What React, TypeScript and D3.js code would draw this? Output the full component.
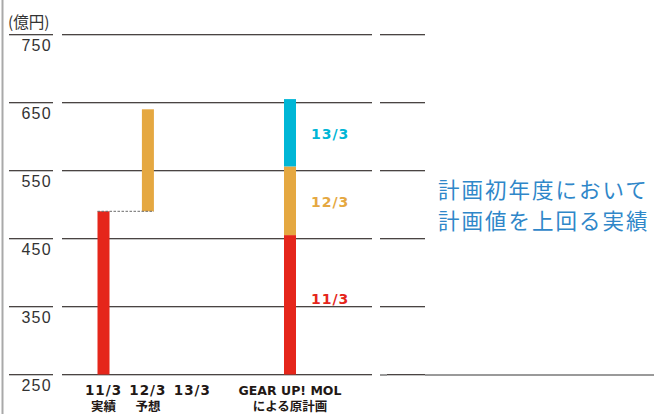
import React from "react";
import * as d3 from "d3";

const W = 654;
const H = 414;

// Y axis ticks (億円)
const yTicks = [250, 350, 450, 550, 650, 750];
const yUnit = "(億円)";

// Left group: actual + forecast
const actual11 = 490; // 11/3 実績
const forecast12 = 640; // 12/3 予想 (floating from actual11)

// Plan stack (GEAR UP! MOL による原計画)
const planSeries = ["11/3", "12/3", "13/3"];
const planValues = [455, 556, 655];
const planColors = ["#e5261b", "#e5a841", "#00b6d6"];

const categories = ["11/3", "12/3", "13/3", "GEAR UP! MOL"];
const categorySub = ["実績", "予想", "", "による原計画"];
const categorySlots = [0, 1, 2, 4.2];

const note = ["計画初年度において", "計画値を上回る実績"];

export default function App() {
  const y = d3.scaleLinear().domain([250, 750]).range([374.5, 34.5]);
  const x = d3.scaleLinear().domain([0, 4.2]).range([103.5, 290]);
  const barW = 12;
  const base = 250;

  const gridSegs: [number, number][] = [
    [9, 53],
    [62, 372],
    [380, 425],
  ];

  const boldFont = "'DejaVu Sans', sans-serif";
  const stackX = x(categorySlots[3]);
  let prev = base;
  const stack = planValues.map((v, i) => {
    const s = { from: prev, to: v, color: planColors[i], label: planSeries[i] };
    prev = v;
    return s;
  });

  return (
    <svg
      width={W}
      height={H}
      style={{ position: "absolute", left: 0, top: 0, background: "#fff" }}
    >
      {/* left border */}
      <line x1={2.5} x2={2.5} y1={0} y2={H} stroke="#a9a9a9" strokeWidth={2} />

      {/* grid lines */}
      {yTicks.map((t) => (
        <g key={t}>
          {gridSegs.map(([a, b], i) => (
            <g key={i}>
              <line x1={a} x2={b} y1={y(t)} y2={y(t)} stroke="#4a4442" strokeWidth={1} />
              <line x1={a} x2={b} y1={y(t) + 1} y2={y(t) + 1} stroke="#c4c4c4" strokeWidth={1} />
            </g>
          ))}
          <text
            x={52}
            y={y(t) + 16}
            textAnchor="end"
            fontFamily="'Liberation Sans', Arial, sans-serif"
            fontSize={16}
            letterSpacing={1.3}
            fill="#333"
          >
            {t}
          </text>
        </g>
      ))}
      {/* extended baseline on right */}
      <line x1={425} x2={W} y1={y(base) + 0.5} y2={y(base) + 0.5} stroke="#9a9a9a" strokeWidth={2} />
      <line x1={380} x2={387} y1={y(base) + 0.5} y2={y(base) + 0.5} stroke="#9a9a9a" strokeWidth={2} />

      <text
        x={8}
        y={28}
        fontFamily="'Noto Sans CJK JP', sans-serif"
        fontSize={15.5}
        fill="#333"
      >
        {yUnit}
      </text>

      {/* 11/3 actual */}
      <rect
        x={x(categorySlots[0]) - barW / 2}
        y={y(actual11)}
        width={barW}
        height={y(base) - y(actual11)}
        fill={planColors[0]}
      />
      {/* 12/3 forecast floating */}
      <rect
        x={x(categorySlots[1]) - barW / 2}
        y={y(forecast12)}
        width={barW}
        height={y(actual11) - y(forecast12)}
        fill={planColors[1]}
      />
      <line
        x1={x(categorySlots[0]) - barW / 2}
        x2={x(categorySlots[1]) + barW / 2}
        y1={y(actual11)}
        y2={y(actual11)}
        stroke="#6b6b6b"
        strokeWidth={1}
        strokeDasharray="2.5,1.5"
      />

      {/* plan stack */}
      {stack.map((s) => (
        <rect
          key={s.label}
          x={stackX - barW / 2}
          y={y(s.to)}
          width={barW}
          height={y(s.from) - y(s.to)}
          fill={s.color}
        />
      ))}
      {stack.map((s, i) => {
        const mid = (y(s.from) + y(s.to)) / 2;
        const cy = i === 0 ? y(s.to) + 63 : mid;
        return (
          <text
            key={"l" + s.label}
            x={311}
            y={cy + 6}
            fontFamily={boldFont}
            fontWeight="bold"
            fontSize={14}
            letterSpacing={1}
            fill={s.color}
          >
            {s.label}
          </text>
        );
      })}

      {/* category labels */}
      {categories.map((c, i) => (
        <g key={c}>
          <text
            x={x(categorySlots[i])}
            y={394.5}
            textAnchor="middle"
            fontFamily={boldFont}
            fontWeight="bold"
            fontSize={i === 3 ? 12.5 : 13.5}
            letterSpacing={i === 3 ? 0 : 1}
            fill="#231815"
          >
            {c}
          </text>
          {categorySub[i] && (
            <text
              x={x(categorySlots[i])}
              y={411}
              textAnchor="middle"
              fontFamily="'Noto Sans CJK JP', sans-serif"
              fontWeight="bold"
              fontSize={12.5}
              fill="#231815"
            >
              {categorySub[i]}
            </text>
          )}
        </g>
      ))}

      {/* annotation */}
      {note.map((t, i) => (
        <text
          key={i}
          x={438}
          y={198 + i * 31}
          fontFamily="'Noto Sans CJK JP', sans-serif"
          fontWeight={400}
          fontSize={21.5}
          letterSpacing={2}
          fill="#2f87c9"
        >
          {t}
        </text>
      ))}
    </svg>
  );
}
